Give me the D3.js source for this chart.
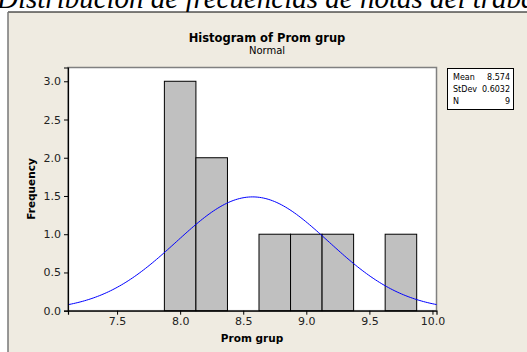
<!DOCTYPE html>
<html>
<head>
<meta charset="utf-8">
<script src="https://d3js.org/d3.v7.min.js"></script>
<style>
  body { margin: 0; background: #fff; }
  svg { display: block; }
  text { font-family: "DejaVu Sans", Verdana, sans-serif; }
</style>
</head>
<body>
<svg id="chart"></svg>
<script>
// histogram of Prom grup, bin width 0.25
var binMids = [8.0, 8.25, 8.5, 8.75, 9.0, 9.25, 9.5, 9.75];
var counts = [3, 2, 0, 1, 1, 1, 0, 1];
var xTicks = [7.5, 8.0, 8.5, 9.0, 9.5, 10.0];
var yTicks = [0, 0.5, 1.0, 1.5, 2.0, 2.5, 3.0];
var stats = [["Mean", "8.574"], ["StDev", "0.6032"], ["N", "9"]];
var mean = 8.574, sd = 0.6032, n = 9, binWidth = 0.25;

var W = 527, H = 352;
var svg = d3.select("#chart").attr("width", W).attr("height", H);

// heading from the document, cut off at the top
svg.append("text")
    .attr("x", -3).attr("y", 8)
    .style("font-family", "'Liberation Serif', 'DejaVu Serif', serif")
    .style("font-style", "italic")
    .style("font-size", "29px")
    .attr("fill", "#000")
    .text("Distribución de frecuencias de notas del trabajo");

// grey panel
svg.append("rect").attr("x", 8).attr("y", 12).attr("width", W).attr("height", H)
    .attr("fill", "#efebe1");
svg.append("line").attr("x1", 8).attr("x2", W).attr("y1", 12).attr("y2", 12)
    .attr("stroke", "#000").attr("stroke-width", 1.2);
svg.append("line").attr("x1", 8).attr("x2", 8).attr("y1", 12).attr("y2", H)
    .attr("stroke", "#777").attr("stroke-width", 1.5);

var pLeft = 68, pRight = 436.5, pTop = 67.5, pBottom = 310.7;

var x = d3.scaleLinear().domain([7.111, 10.032]).range([pLeft, pRight]);
var y = d3.scaleLinear().domain([0, 3.18]).range([pBottom, pTop]);

svg.append("rect").attr("x", pLeft).attr("y", pTop)
    .attr("width", pRight - pLeft).attr("height", pBottom - pTop)
    .attr("fill", "#fff").attr("stroke", "#808080").attr("stroke-width", 1.5);

var g = svg.append("g");

g.selectAll("rect.bar")
    .data(binMids.map(function (m, i) { return {m: m, c: counts[i]}; }).filter(function (d) { return d.c > 0; }))
    .enter().append("rect")
    .attr("class", "bar")
    .attr("x", function (d) { return x(d.m - binWidth / 2); })
    .attr("width", function (d) { return x(d.m + binWidth / 2) - x(d.m - binWidth / 2); })
    .attr("y", function (d) { return y(d.c); })
    .attr("height", function (d) { return y(0) - y(d.c); })
    .attr("fill", "#c0c0c0")
    .attr("stroke", "#000")
    .attr("stroke-width", 1);

// fitted normal curve
var scale = n * binWidth;
var xs = d3.range(0, 201).map(function (i) { return 7.111 + (10.032 - 7.111) * i / 200; });
var line = d3.line()
    .x(function (v) { return x(v); })
    .y(function (v) {
        var z = (v - mean) / sd;
        return y(scale * Math.exp(-z * z / 2) / (sd * Math.sqrt(2 * Math.PI)));
    });
g.append("path").datum(xs).attr("d", line)
    .attr("fill", "none").attr("stroke", "#0000ff").attr("stroke-width", 1);

// axes
var xAxis = svg.append("g").attr("transform", "translate(0," + pBottom + ")")
    .call(d3.axisBottom(x).tickValues(xTicks).tickFormat(d3.format(".1f")).tickSize(4).tickPadding(3));
var yAxis = svg.append("g").attr("transform", "translate(" + pLeft + ",0)")
    .call(d3.axisLeft(y).tickValues(yTicks).tickFormat(d3.format(".1f")).tickSize(4).tickPadding(3));
[xAxis, yAxis].forEach(function (a) {
    a.select(".domain").attr("stroke", "#000").attr("stroke-width", 1.2);
    a.selectAll("text").style("font-size", "11px").attr("fill", "#222");
    a.selectAll(".tick line").attr("stroke", "#000");
});

// titles
svg.append("text").attr("x", 267).attr("y", 42).attr("text-anchor", "middle")
    .style("font-size", "11.5px").style("font-weight", "bold").text("Histogram of Prom grup");
svg.append("text").attr("x", 267).attr("y", 54).attr("text-anchor", "middle")
    .style("font-size", "10px").text("Normal");
svg.append("text").attr("x", 252).attr("y", 342).attr("text-anchor", "middle")
    .style("font-size", "10.5px").style("font-weight", "bold").text("Prom grup");
svg.append("text").attr("transform", "translate(35,189) rotate(-90)").attr("text-anchor", "middle")
    .style("font-size", "10.5px").style("font-weight", "bold").text("Frequency");

// stats box
svg.append("rect").attr("x", 447.5).attr("y", 68.5).attr("width", 66).attr("height", 41)
    .attr("fill", "#fff").attr("stroke", "#000").attr("stroke-width", 1);
var rows = svg.selectAll("g.stat").data(stats).enter().append("g").attr("class", "stat")
    .attr("transform", function (d, i) { return "translate(0," + (80 + i * 12) + ")"; });
rows.append("text").attr("x", 453).style("font-size", "8px").text(function (d) { return d[0]; });
rows.append("text").attr("x", 510).attr("text-anchor", "end").style("font-size", "8px").text(function (d) { return d[1]; });
</script>
</body>
</html>
